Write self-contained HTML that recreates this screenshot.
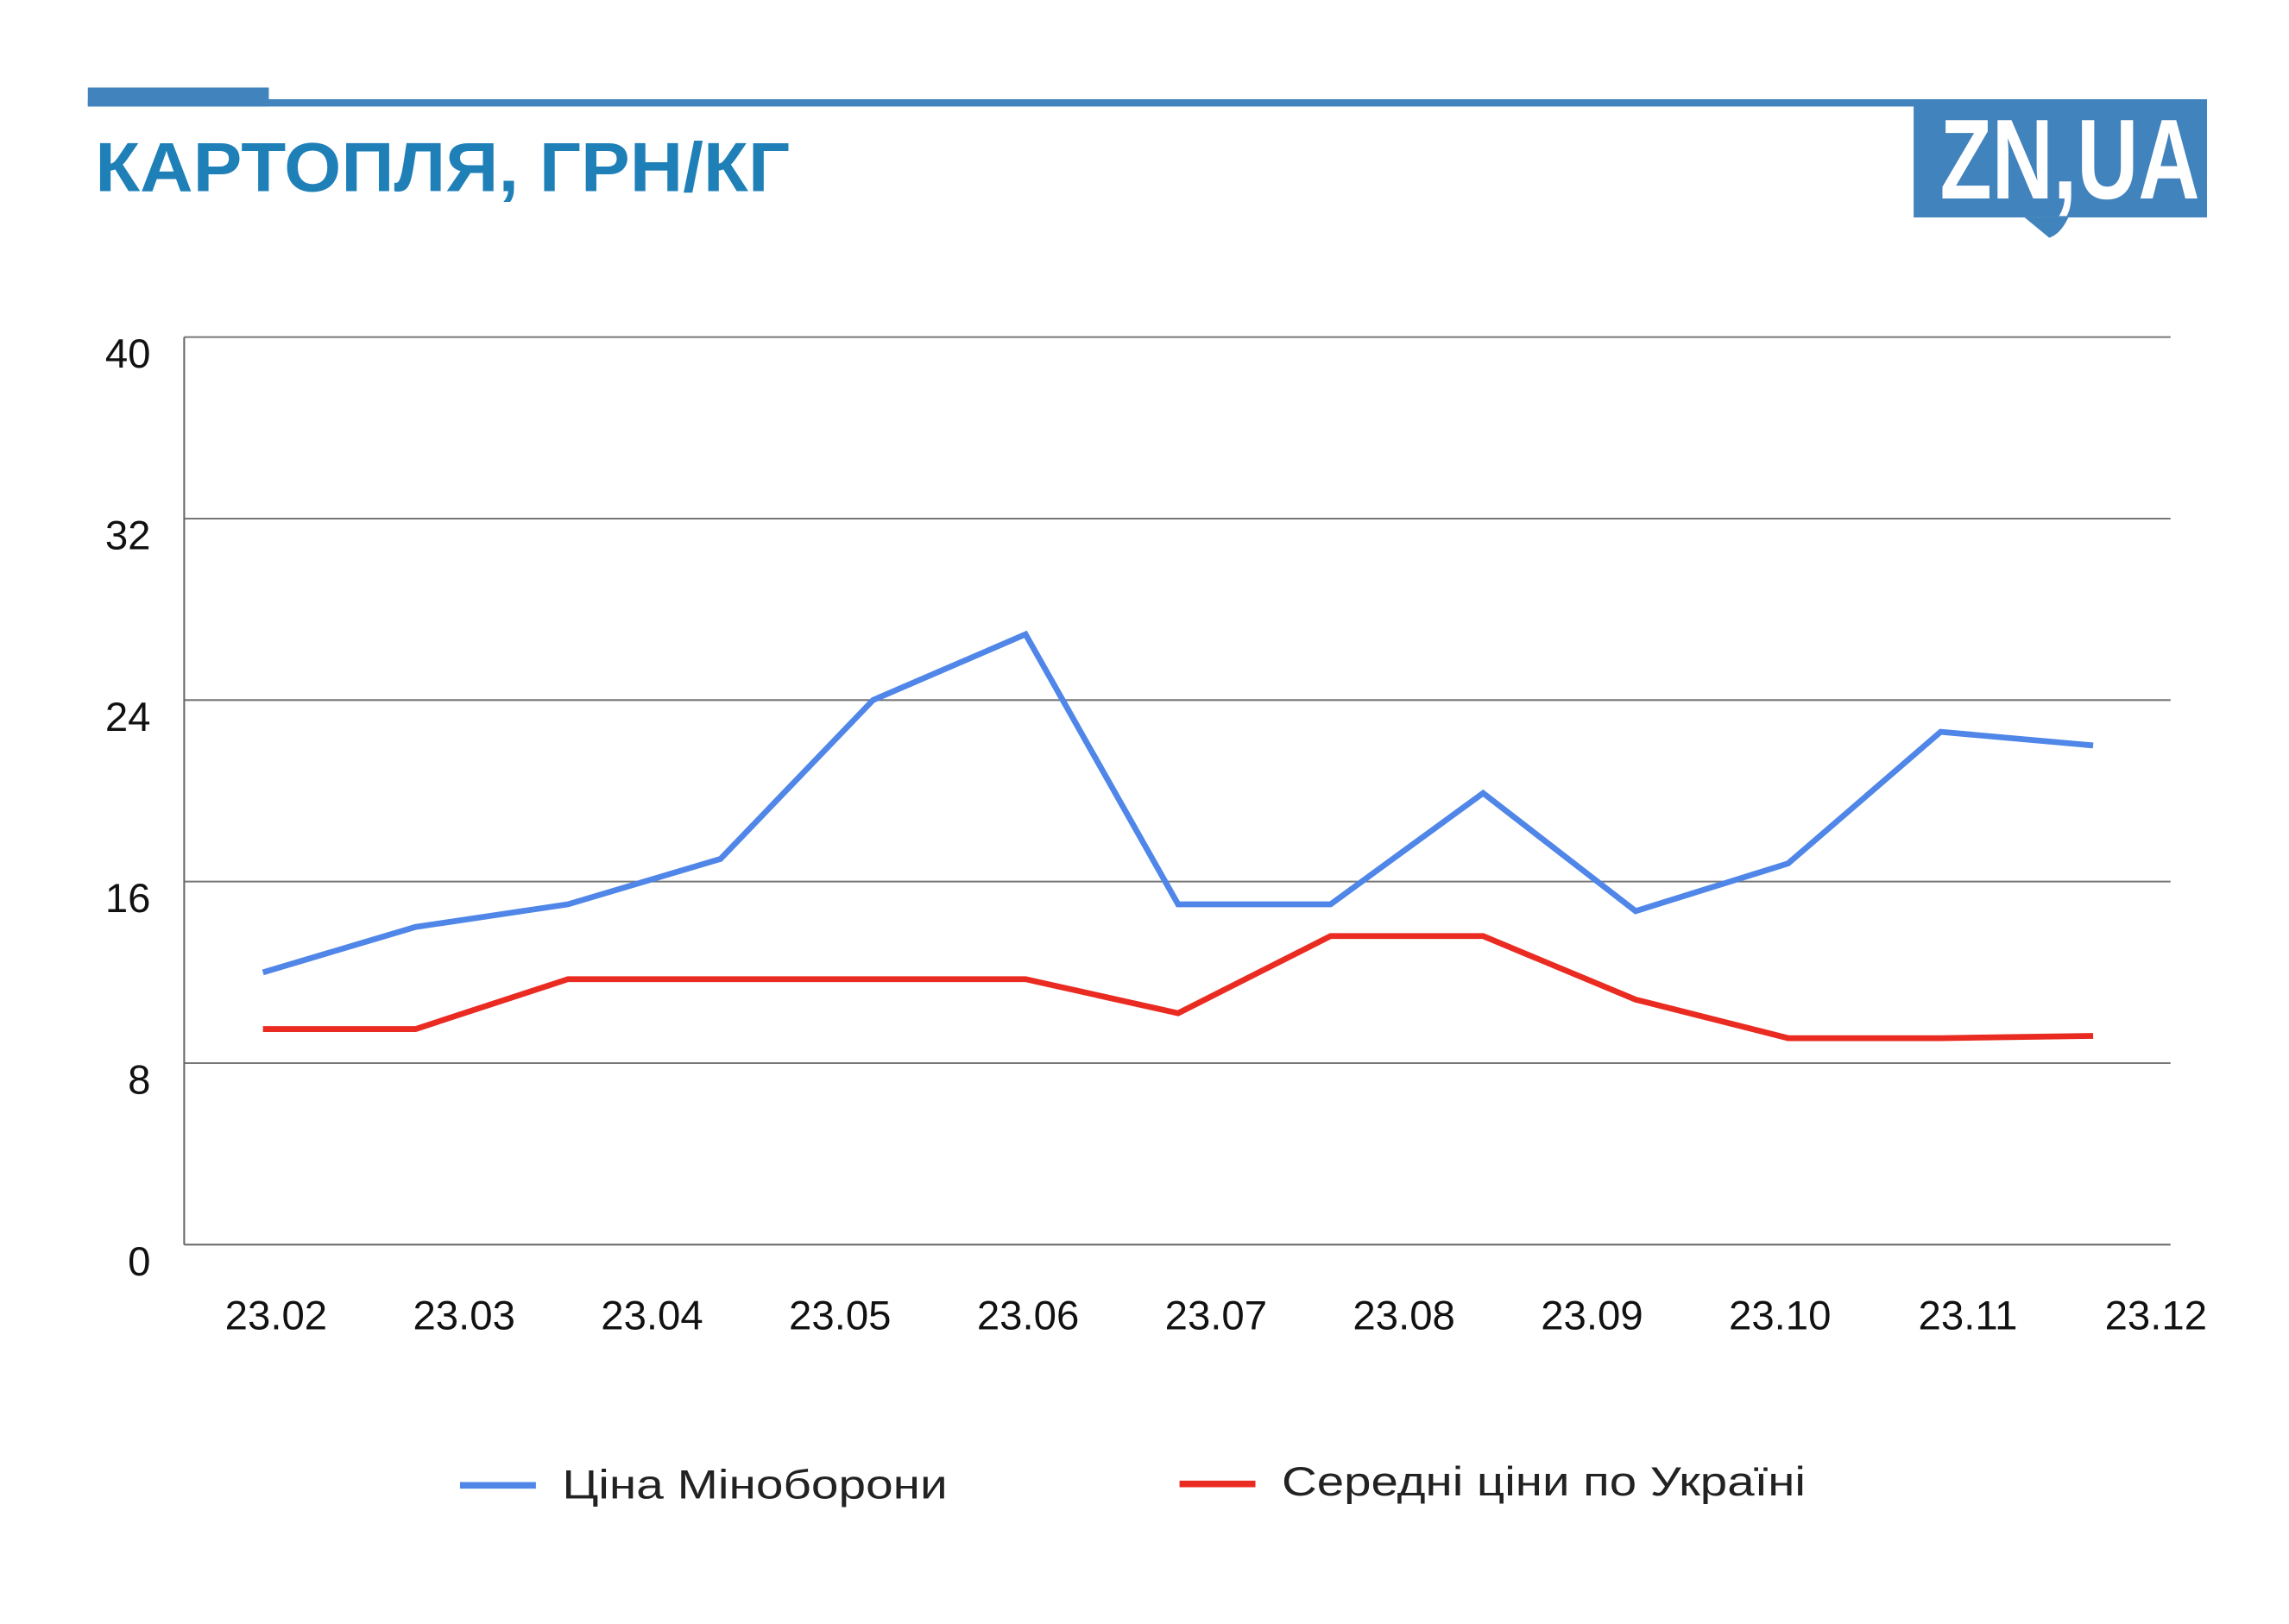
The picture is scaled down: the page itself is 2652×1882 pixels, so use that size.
<!DOCTYPE html>
<html><head><meta charset="utf-8"><style>
html,body{margin:0;padding:0;background:#fff;}
svg{display:block;}
text{font-family:"Liberation Sans",sans-serif;}
</style></head><body>
<svg id="chart" width="2652" height="1882" viewBox="0 0 1568 1113" xmlns="http://www.w3.org/2000/svg">
<g>
<rect x="60" y="60" width="124" height="13" fill="#4183bd"/>
<rect x="60" y="68" width="1256" height="5" fill="#4183bd"/>
<text x="65" y="131" font-size="48" font-weight="bold" fill="#1f80b8" textLength="476" lengthAdjust="spacingAndGlyphs">КАРТОПЛЯ, ГРН/КГ</text>
<g>
<rect x="1311" y="68" width="201" height="81" fill="#4183bd"/>
<path d="M1387 149 L1417 149 Q1412 160 1404 163 Z" fill="#4183bd"/>
<text x="1329" y="136" font-size="78" font-weight="bold" fill="#fff" textLength="178" lengthAdjust="spacingAndGlyphs">ZN,UA</text>
</g>
</g>
<g id="grid"></g>
<g id="series"></g>
<g>
<g>
<line x1="315" y1="1018" x2="367" y2="1018" stroke="#4f86e8" stroke-width="4.5"/>
<text x="385" y="1027" font-size="28" fill="#222" textLength="264" lengthAdjust="spacingAndGlyphs">Ціна Міноборони</text>
</g>
<g>
<line x1="808" y1="1017" x2="860" y2="1017" stroke="#ea2b21" stroke-width="4.5"/>
<text x="878" y="1025" font-size="28" fill="#222" textLength="359" lengthAdjust="spacingAndGlyphs">Середні ціни по Україні</text>
</g>
</g>
</svg>
<script>
const categories=["23.02","23.03","23.04","23.05","23.06","23.07","23.08","23.09","23.10","23.11","23.12"];
const yTicks=[0,8,16,24,32,40];
const modPrices=[12.0,14.0,15.0,17.0,24.0,26.9,15.0,15.0,19.9,14.7,16.8,22.6,22.0];
const avgPrices=[9.5,9.5,11.7,11.7,11.7,11.7,10.2,13.6,13.6,10.8,9.1,9.1,9.2];
const NS="http://www.w3.org/2000/svg";
const X0=126,X1=1487,Y0=853,Y1=231,YMAX=40;
function y(v){return Y0-(v/YMAX)*(Y0-Y1);}
function xp(i){return 180+i*104.5;}
function xl(i){return 189+i*128.8;}
function mk(t,a,p){const e=document.createElementNS(NS,t);for(const k in a)e.setAttribute(k,a[k]);p.appendChild(e);return e;}
const grid=document.getElementById('grid');
yTicks.forEach(t=>{
 const l=mk('line',{x1:X0,x2:X1,y1:y(t),y2:y(t),stroke:t===0?'#666':'#777','stroke-width':1.2},grid);
 
 
 const tx=mk('text',{x:103,y:y(t)+21,'font-size':28,fill:'#111','text-anchor':'end'},grid);
 tx.textContent=t;
 
 
});
const ax=mk('line',{x1:X0,x2:X0,y1:Y1,y2:Y0,stroke:'#666','stroke-width':1.2},grid);


categories.forEach((c,i)=>{
 const tx=mk('text',{x:xl(i),y:911,'font-size':28,fill:'#111','text-anchor':'middle'},grid);
 tx.textContent=c;
 
 
});
const s=document.getElementById('series');
function line(vals,color,name){
 const p=mk('polyline',{points:vals.map((v,i)=>xp(i)+','+y(v)).join(' '),fill:'none',stroke:color,'stroke-width':4,'stroke-linejoin':'miter'},s);
 
 
}
line(avgPrices,'#ea2b21','line-average-ukraine');
line(modPrices,'#4f86e8','line-ministry-defence');
</script>
</body></html>
